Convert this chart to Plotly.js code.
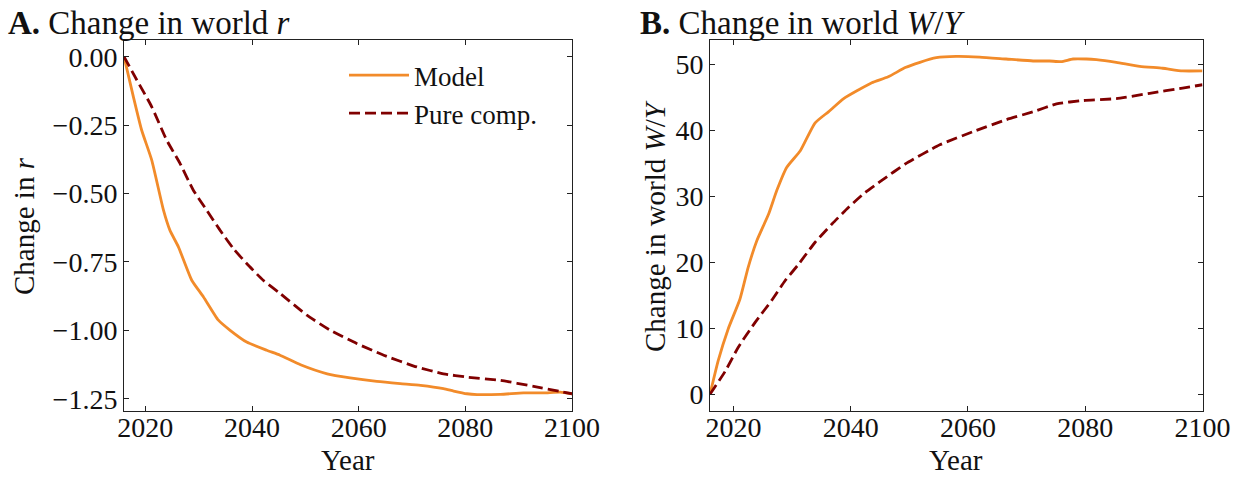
<!DOCTYPE html>
<html>
<head>
<meta charset="utf-8">
<script src="https://cdn.plot.ly/plotly-3.0.1.min.js"></script>
<style>html,body{margin:0;padding:0;background:#fff;}#chart{width:1245px;height:477px;}</style>
</head>
<body>
<div id="chart"></div>
<script>
// Panel A: change in world r
const yearsA_model = [2016, 2017.75, 2019.3, 2021.2, 2023.4, 2024.6, 2026.2, 2028.7, 2030.9, 2033.7, 2035.9, 2039.0, 2042.75, 2045.25, 2049.1, 2054.1, 2058.4, 2063.4, 2067.8, 2071.6, 2075.9, 2077.8, 2080.3, 2082.2, 2086.6, 2090.9, 2094.7, 2097.8, 2100];
const rModel = [0, -0.146, -0.268, -0.378, -0.561, -0.634, -0.695, -0.817, -0.878, -0.963, -1.000, -1.043, -1.073, -1.091, -1.126, -1.159, -1.174, -1.187, -1.195, -1.201, -1.213, -1.222, -1.232, -1.235, -1.234, -1.229, -1.229, -1.226, -1.232];
const yearsA_pure = [2016, 2018.4, 2021.2, 2024.0, 2026.5, 2029.0, 2031.5, 2034.0, 2036.5, 2039.0, 2042.1, 2045.25, 2050.3, 2054.7, 2059.7, 2064.7, 2070.9, 2075.9, 2080.3, 2086.6, 2092.8, 2100];
const rPure = [0, -0.085, -0.183, -0.305, -0.390, -0.488, -0.561, -0.634, -0.701, -0.756, -0.817, -0.865, -0.945, -1.000, -1.049, -1.091, -1.134, -1.159, -1.171, -1.183, -1.205, -1.232];

// Panel B: change in world W/Y
const yearsB_model = [2016, 2017.4, 2019.1, 2021.1, 2022.5, 2024.0, 2026.0, 2027.4, 2029.1, 2031.4, 2033.9, 2036.2, 2038.8, 2041.3, 2043.6, 2046.4, 2049.3, 2051.8, 2054.6, 2058.0, 2062.0, 2066.5, 2071.1, 2073.9, 2075.9, 2077.9, 2080.2, 2081.9, 2085.3, 2089.3, 2093.2, 2096.6, 2100];
const wyModel = [0, 5.1, 9.9, 14.4, 19.2, 23.3, 27.3, 30.9, 34.4, 36.9, 41.1, 42.8, 44.8, 46.1, 47.2, 48.1, 49.5, 50.3, 51.0, 51.2, 51.1, 50.8, 50.5, 50.5, 50.4, 50.8, 50.8, 50.7, 50.3, 49.7, 49.4, 49.0, 49.0];
const yearsB_pure = [2016, 2018.6, 2020.8, 2023.7, 2026.5, 2028.8, 2031.1, 2033.9, 2036.8, 2039.6, 2042.5, 2045.3, 2049.3, 2055.2, 2060.9, 2066.5, 2071.1, 2075.1, 2079.6, 2085.3, 2091.0, 2096.6, 2100];
const wyPure = [0, 3.5, 7.1, 10.9, 14.2, 17.2, 19.7, 23.0, 25.8, 28.3, 30.6, 32.4, 34.9, 37.8, 39.8, 41.6, 42.8, 44.0, 44.5, 44.8, 45.6, 46.4, 46.9];

const xTicks = [2020, 2040, 2060, 2080, 2100];
const yTicksA = [0, -0.25, -0.5, -0.75, -1.0, -1.25];
const yTicksB = [0, 10, 20, 30, 40, 50];

const ORANGE = '#F28B2A';
const DARKRED = '#800000';
const FONT = 'Liberation Serif, Times New Roman, serif';

const traces = [
  {x: yearsA_model, y: rModel, xaxis: 'x', yaxis: 'y', mode: 'lines', name: 'Model',
   line: {color: ORANGE, width: 2.8, shape: 'spline', smoothing: 0.5}},
  {x: yearsA_pure, y: rPure, xaxis: 'x', yaxis: 'y', mode: 'lines', name: 'Pure comp.',
   line: {color: DARKRED, width: 2.8, dash: '11px,5px', shape: 'spline', smoothing: 0.5}},
  {x: yearsB_model, y: wyModel, xaxis: 'x2', yaxis: 'y2', mode: 'lines', name: 'Model', showlegend: false,
   line: {color: ORANGE, width: 2.8, shape: 'spline', smoothing: 0.5}},
  {x: yearsB_pure, y: wyPure, xaxis: 'x2', yaxis: 'y2', mode: 'lines', name: 'Pure comp.', showlegend: false,
   line: {color: DARKRED, width: 2.8, dash: '11px,5px', shape: 'spline', smoothing: 0.5}}
];

const axBase = {
  showgrid: false, zeroline: false, showline: true, linecolor: '#222', linewidth: 1,
  mirror: 'ticks', ticks: 'inside', ticklen: 5, tickwidth: 1, tickcolor: '#222',
  tickfont: {family: FONT, size: 28, color: '#111'}
};
const xAx = {ticklabelstandoff: -9};

const yDom = [1 - 411/477, 1 - 40/477];

const layout = {
  width: 1245, height: 477,
  margin: {l: 0, r: 0, t: 0, b: 0},
  paper_bgcolor: '#fff', plot_bgcolor: '#fff',
  font: {family: FONT, color: '#111'},
  xaxis: Object.assign({}, axBase, xAx, {domain: [124/1245, 572/1245], range: [2016, 2100], tickvals: xTicks, anchor: 'y'}),
  yaxis: Object.assign({}, axBase, {domain: yDom, range: [-1.295, 0.061], tickvals: yTicksA, tickformat: '.2f', anchor: 'x'}),
  xaxis2: Object.assign({}, axBase, xAx, {domain: [710/1245, 1202.5/1245], range: [2016, 2100], tickvals: xTicks, anchor: 'y2'}),
  yaxis2: Object.assign({}, axBase, {domain: yDom, range: [-2.53, 53.68], tickvals: yTicksB, anchor: 'x2'}),
  showlegend: true,
  legend: {x: 344/1245, y: 1 - 51/477, xanchor: 'left', yanchor: 'top', bgcolor: 'rgba(0,0,0,0)',
           font: {family: FONT, size: 27, color: '#111'}, itemwidth: 60, traceorder: 'normal'},
  annotations: [
    {text: '<b>A.</b> Change in world <i>r</i>', xref: 'paper', yref: 'paper', x: 6/1245, y: 1 - 23/477,
     xanchor: 'left', yanchor: 'middle', showarrow: false, font: {family: FONT, size: 33, color: '#111'}},
    {text: '<b>B.</b> Change in world <i>W</i>/<i>Y</i>', xref: 'paper', yref: 'paper', x: 638/1245, y: 1 - 23/477,
     xanchor: 'left', yanchor: 'middle', showarrow: false, font: {family: FONT, size: 33, color: '#111'}},
    {text: 'Change in <i>r</i>', xref: 'paper', yref: 'paper', x: 24/1245, y: 1 - 226/477,
     xanchor: 'center', yanchor: 'middle', textangle: -90, showarrow: false, font: {family: FONT, size: 29, color: '#111'}},
    {text: 'Change in world <i>W</i>/<i>Y</i>', xref: 'paper', yref: 'paper', x: 655/1245, y: 1 - 226/477,
     xanchor: 'center', yanchor: 'middle', textangle: -90, showarrow: false, font: {family: FONT, size: 29, color: '#111'}},
    {text: 'Year', xref: 'paper', yref: 'paper', x: 348/1245, y: 1 - 460/477,
     xanchor: 'center', yanchor: 'middle', showarrow: false, font: {family: FONT, size: 29, color: '#111'}},
    {text: 'Year', xref: 'paper', yref: 'paper', x: 956/1245, y: 1 - 460/477,
     xanchor: 'center', yanchor: 'middle', showarrow: false, font: {family: FONT, size: 29, color: '#111'}}
  ]
};

Plotly.newPlot('chart', traces, layout, {displayModeBar: false, staticPlot: true});
</script>
</body>
</html>
